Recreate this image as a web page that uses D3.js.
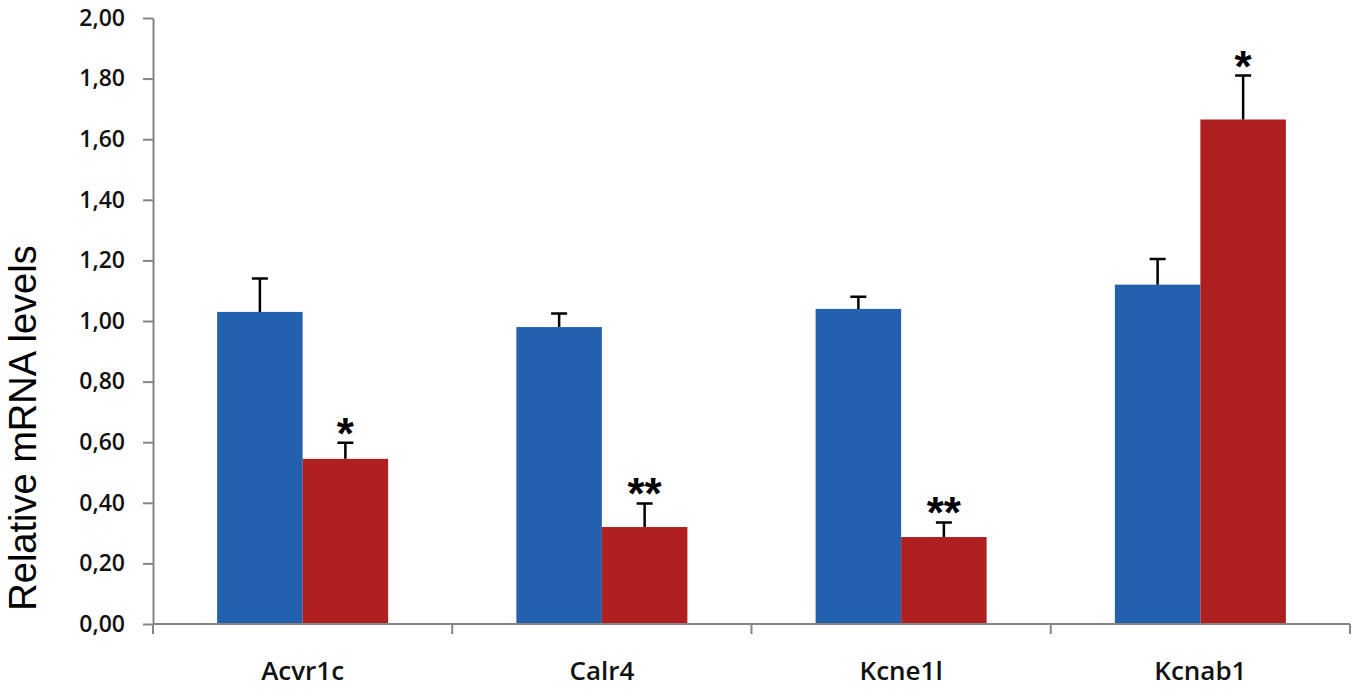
<!DOCTYPE html>
<html>
<head>
<meta charset="utf-8">
<script src="https://cdn.jsdelivr.net/npm/d3@7"></script>
<style>
  body { margin: 0; background: #fff; }
  #chartContainer { width: 1355px; height: 691px; }
</style>
</head>
<body>
<div id="chartContainer"></div>
<script>
// values
const categories = ["Acvr1c", "Calr4", "Kcne1l", "Kcnab1"];
const controlValues = [1.03, 0.98, 1.04, 1.12];
const controlErrors = [0.11, 0.045, 0.04, 0.085];
const treatedValues = [0.545, 0.32, 0.287, 1.665];
const treatedErrors = [0.053, 0.078, 0.048, 0.145];
const treatedMarks = ["*", "**", "**", "*"];
const yTicks = [0, 0.2, 0.4, 0.6, 0.8, 1.0, 1.2, 1.4, 1.6, 1.8, 2.0];

const series = ["control", "treated"];
const colors = { control: "#2360ae", treated: "#af1f1f" };

const data = categories.map((c, i) => ({
    name: c,
    bars: [
        { key: "control", value: controlValues[i], err: controlErrors[i], mark: "" },
        { key: "treated", value: treatedValues[i], err: treatedErrors[i], mark: treatedMarks[i] }
    ]
}));

const margin = { top: 18, right: 5, bottom: 67, left: 153 };
const width = 1355 - margin.left - margin.right;
const height = 691 - margin.top - margin.bottom;

const svg = d3.select("#chartContainer")
    .append("svg")
    .attr("width", 1355)
    .attr("height", 691)
    .append("g")
    .attr("transform", `translate(${margin.left},${margin.top})`);

const xScale = d3.scaleBand()
    .domain(categories)
    .range([0, width])
    .padding(0);

// Excel style: gap width 150% between groups
const xInner = d3.scaleBand()
    .domain(series)
    .range([0, xScale.bandwidth()])
    .paddingOuter(0.75)
    .paddingInner(0);

const yScale = d3.scaleLinear()
    .domain([0, 2])
    .range([height, 0]);

const fmt = d => d3.format(".2f")(d).replace(".", ",");

// Y axis
const yAxis = svg.append("g")
    .call(d3.axisLeft(yScale).tickValues(yTicks).tickFormat(fmt).tickSize(10).tickPadding(18).tickSizeOuter(0));
yAxis.select(".domain").attr("stroke", "#858585").attr("stroke-width", 2);
yAxis.selectAll(".tick line").attr("stroke", "#858585").attr("stroke-width", 2);
yAxis.selectAll("text")
    .style("font-family", "'Open Sans', sans-serif")
    .style("font-weight", 600)
    .style("font-size", "23px")
    .attr("fill", "#111");

// bars
const groups = svg.selectAll(".group")
    .data(data)
    .enter()
    .append("g")
    .attr("transform", d => `translate(${xScale(d.name)},0)`);

groups.selectAll("rect")
    .data(d => d.bars)
    .enter()
    .append("rect")
    .attr("x", d => xInner(d.key))
    .attr("y", d => yScale(d.value))
    .attr("width", xInner.bandwidth())
    .attr("height", d => height - yScale(d.value))
    .attr("fill", d => colors[d.key]);

// upper error bars
groups.selectAll(".err")
    .data(d => d.bars)
    .enter()
    .append("path")
    .attr("class", "err")
    .attr("d", d => {
        const cx = xInner(d.key) + xInner.bandwidth() / 2;
        const y0 = yScale(d.value);
        const y1 = yScale(d.value + d.err);
        return `M${cx},${y0}V${y1}M${cx - 8},${y1}H${cx + 8}`;
    })
    .attr("stroke", "#000")
    .attr("stroke-width", 2.5)
    .attr("fill", "none");

// significance marks
groups.selectAll(".sig")
    .data(d => d.bars.filter(b => b.mark))
    .enter()
    .append("text")
    .attr("x", d => xInner(d.key) + xInner.bandwidth() / 2)
    .attr("y", d => yScale(d.value + d.err) + 6)
    .attr("text-anchor", "middle")
    .style("font-family", "'Liberation Sans', Arial, sans-serif")
    .style("font-weight", "bold")
    .style("font-size", "44px")
    .text(d => d.mark);

// X axis line with ticks at category boundaries
const xAxis = svg.append("g").attr("transform", `translate(0,${height})`);
xAxis.append("line")
    .attr("x1", 0).attr("x2", width)
    .attr("stroke", "#858585").attr("stroke-width", 2);
xAxis.selectAll(".bound")
    .data(categories.map(c => xScale(c)).concat([xScale.range()[1]]))
    .enter()
    .append("line")
    .attr("x1", d => d).attr("x2", d => d)
    .attr("y1", 0).attr("y2", 10)
    .attr("stroke", "#858585").attr("stroke-width", 2);
xAxis.selectAll(".label")
    .data(categories)
    .enter()
    .append("text")
    .attr("x", d => xScale(d) + xScale.bandwidth() / 2)
    .attr("y", 56)
    .attr("text-anchor", "middle")
    .style("font-family", "'Open Sans', sans-serif")
    .style("font-weight", 600)
    .style("font-size", "26px")
    .attr("fill", "#111")
    .text(d => d);

// Y axis title
svg.append("text")
    .attr("transform", `translate(${36 - margin.left},${428 - margin.top}) rotate(-90)`)
    .attr("text-anchor", "middle")
    .style("font-family", "'Liberation Sans', Arial, sans-serif")
    .style("font-size", "38px")
    .attr("fill", "#000")
    .text("Relative mRNA levels");
</script>
</body>
</html>
